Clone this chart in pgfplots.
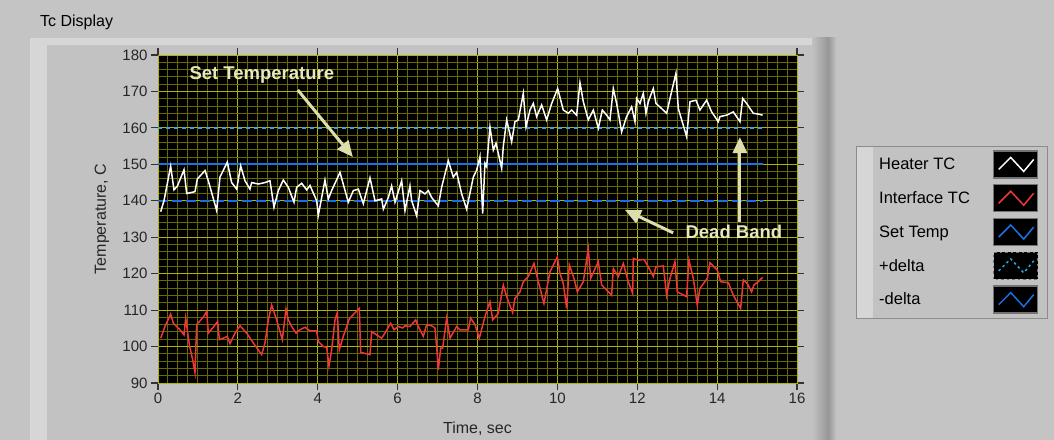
\documentclass[border=0pt]{standalone}
\usepackage{fontspec}
\setmainfont{Liberation Sans}
\usepackage{pgfplots}
\usepackage{pgfplotstable}
\pgfplotsset{compat=1.18}
\usetikzlibrary{arrows.meta}
\definecolor{bggray}{RGB}{196,196,196}
\definecolor{panelgray}{RGB}{194,194,194}
\definecolor{panellight}{RGB}{214,214,214}
\definecolor{panedark}{RGB}{150,150,150}
\definecolor{majgrid}{RGB}{180,180,0}
\definecolor{mingrid}{RGB}{105,105,0}
\definecolor{setblue}{RGB}{25,115,230}
\definecolor{plusblue}{RGB}{45,165,230}
\definecolor{minusblue}{RGB}{25,110,225}
\definecolor{tcred}{RGB}{240,55,55}
\definecolor{annot}{RGB}{222,222,172}
\definecolor{annottext}{RGB}{232,232,190}

\pgfplotstableread{
t v
0.067 137.0
0.15 140
0.317 149.5
0.40 143
0.484 144
0.651 148.5
0.718 142
0.843 142.3
0.926 142.5
0.985 146
1.177 148.3
1.26 145.5
1.469 137.3
1.552 146.5
1.736 150.6
1.844 145
1.97 143.2
2.07 149.6
2.178 145.5
2.303 143.2
2.345 145
2.512 144.6
2.679 145
2.804 145.5
2.904 138.2
3.013 142.8
3.138 145.7
3.263 143.7
3.405 139.6
3.472 143.7
3.597 144.8
3.722 143
3.806 144.2
3.973 140
4.014 136
4.181 145.7
4.265 140.5
4.348 142.8
4.557 147.8
4.765 139.6
4.891 142.8
5.016 143.2
5.141 139.2
5.308 146.3
5.433 140
5.600 140.5
5.642 137.7
5.767 140.9
5.850 144.1
5.934 139.6
6.101 145.5
6.184 137.3
6.309 144.1
6.351 140
6.476 135.9
6.560 142.8
6.685 141.9
6.768 142.8
6.852 140.9
7.019 138.6
7.102 143.7
7.269 151
7.394 146.5
7.478 147.8
7.603 141.9
7.728 137.7
7.895 146.5
7.979 148.4
8.062 152.1
8.129 136.5
8.187 150.3
8.229 149.4
8.312 160.3
8.396 153.9
8.463 155.8
8.605 148.9
8.646 154.9
8.730 162.2
8.855 156.2
8.938 161.7
9.022 162.2
9.147 169.5
9.214 160.3
9.314 164.9
9.397 166.7
9.481 163.1
9.606 166.3
9.731 162.2
9.857 166.7
10.007 170.8
10.148 164.9
10.274 164
10.357 164.9
10.482 163.5
10.566 172.4
10.649 167.2
10.774 162.2
10.9 164.9
11.025 159.9
11.125 164.9
11.234 163.5
11.317 162.2
11.4 170.8
11.484 166.7
11.609 158.9
11.734 163.1
11.859 165.8
11.943 161.7
11.985 168.1
12.068 166.7
12.152 169.5
12.218 164
12.277 167.2
12.402 170.8
12.469 166.7
12.611 165.3
12.736 164
12.861 170
12.969 175
13.028 165.3
13.153 160.7
13.236 157.6
13.320 167.2
13.470 167.6
13.570 164.9
13.737 167.6
13.862 164.4
14.029 161.7
14.071 163.1
14.238 163.5
14.405 164.4
14.572 161.7
14.639 168.1
14.739 166.7
14.906 164
15.031 163.8
15.139 163.5
}\heater

\pgfplotstableread{
t v
0.067 102.3
0.175 105.5
0.317 108.9
0.384 106.4
0.551 104.6
0.651 103.2
0.693 107.8
0.785 100.5
0.868 96.4
0.926 92.9
0.968 106
1.135 108.1
1.219 109.6
1.26 103.7
1.385 105.3
1.494 106.9
1.536 101.9
1.636 102.3
1.736 102.8
1.803 100.8
1.928 103.7
2.053 105.7
2.22 103.7
2.387 101
2.596 97.8
2.679 101
2.763 107.3
2.846 111.4
2.971 107.3
3.113 101.9
3.205 110.3
3.263 107.3
3.347 105.5
3.455 103.7
3.555 104.6
3.681 105.3
3.806 104.3
3.973 104.3
4.014 101.4
4.14 100
4.223 99.8
4.281 94.6
4.348 99.1
4.432 107.3
4.49 109.3
4.54 99.1
4.64 102.8
4.79 107.6
5.041 110.5
5.074 98.4
5.308 97.8
5.35 104.1
5.475 103.2
5.6 102.3
5.683 103.7
5.825 106.4
5.909 104.6
6.017 105.5
6.126 105.1
6.184 105.7
6.309 105.5
6.451 107.3
6.518 105.5
6.643 102.8
6.726 106
6.852 105.7
6.935 105.1
6.977 100
7.019 93.6
7.078 99.6
7.128 99.6
7.228 107.8
7.311 102.3
7.478 105.5
7.561 104.6
7.77 104.6
7.828 107.8
7.937 106
8.045 102.3
8.187 108.2
8.312 112.3
8.379 107.3
8.521 109.1
8.646 116.9
8.73 113.7
8.88 109.3
8.938 113.2
9.064 115
9.147 117.8
9.272 119.2
9.414 122.8
9.523 117.8
9.664 111.8
9.815 120.5
9.998 124.6
10.065 120.1
10.148 117.3
10.232 110.5
10.299 122.4
10.416 118.7
10.499 115
10.649 117.8
10.774 126.9
10.833 118.7
11.025 123.3
11.108 116.9
11.234 115.5
11.359 114.1
11.4 121.4
11.525 119.2
11.651 122.8
11.776 117.8
11.885 114.6
11.901 124.2
12.026 123.7
12.168 123.9
12.277 121.9
12.402 119.2
12.469 121.9
12.652 122.1
12.736 114.1
12.819 118.7
12.944 123.3
13.003 115
13.236 113.7
13.295 123.7
13.403 118.7
13.503 111.4
13.57 116
13.754 118.7
13.821 123
14.004 121
14.088 117.8
14.28 117.5
14.405 114.1
14.589 110.5
14.655 118.3
14.755 117.3
14.864 115
14.922 116.9
15.031 117.8
15.139 119
}\interface

\begin{document}
\begin{tikzpicture}
\useasboundingbox (0,0) rectangle (1054bp,440bp);
\fill[bggray] (0,0) rectangle (1054bp,440bp);
% graph panel
\fill[panelgray] (30bp,0) rectangle (836bp,402bp);
\fill[panellight] (30bp,395bp) rectangle (836bp,402bp);
\fill[panellight] (30bp,0) rectangle (47bp,402bp);
\shade[left color=panelgray, right color=panedark] (812bp,0) rectangle (828bp,402bp);
\shade[left color=panedark, right color=panelgray] (828bp,0) rectangle (836bp,402bp);
\node[anchor=west, inner sep=0pt, font=\fontsize{16bp}{19bp}\selectfont] at (40bp,418bp) {Tc Display};
% legend panel
\fill[black!45] (856bp,121bp) rectangle (1048bp,294bp);
\fill[panelgray] (857bp,122bp) rectangle (1047bp,293bp);
\fill[panellight] (857bp,122bp) rectangle (873bp,293bp);

\begin{axis}[
  at={(158bp,57bp)}, anchor=south west,
  scale only axis, width=639bp, height=328bp,
  xmin=0, xmax=16, ymin=90, ymax=180,
  xtick={0,2,...,16}, ytick={90,100,...,180},
  minor x tick num=7, minor y tick num=4,
  grid=both,
  major grid style={draw=majgrid, line width=1bp},
  minor grid style={draw=mingrid, line width=1bp},
  axis background/.style={fill=black},
  axis line style={draw=majgrid, line width=1bp},
  tick align=outside, major tick length=7bp, minor tick length=0pt,
  tick style={black!80, line width=1.2bp},
  /pgf/number format/assume math mode=true,
  tick label style={font=\fontsize{15bp}{18bp}\selectfont, text=black!85},
  xlabel={Time, sec}, ylabel={Temperature, C},
  every axis x label/.style={at={(axis description cs:0.5,-0.140)}, anchor=center,
    font=\fontsize{16bp}{19bp}\selectfont, text=black!85},
  every axis y label/.style={at={(axis description cs:-0.0876,0.5)}, anchor=center, rotate=90,
    font=\fontsize{16bp}{19bp}\selectfont, text=black!85},
  legend plot pos=right,
  legend cell align=left,
  legend style={font=\fontsize{16.5bp}{19bp}\selectfont, draw=none, fill=none,
    inner sep=0pt, at={(1.1283,0.7104)}, anchor=north west,
    row sep=5.3bp, column sep=23bp, nodes={inner sep=0pt}},
  legend image code/.code={
    \fill[black, draw=black!55] (0bp,-13.5bp) rectangle (44bp,13.5bp);
    \draw[#1] (5bp,-5bp) -- (17bp,7bp) -- (30bp,-7bp) -- (40bp,5bp);
  },
]
\addplot[setblue, line width=2bp, forget plot] coordinates {(0,150) (15.15,150)};
\addplot[plusblue, line width=2bp, dash pattern=on 4bp off 4bp, forget plot] coordinates {(0,160) (15.15,160)};
\addplot[minusblue, line width=2bp, dash pattern=on 10bp off 4bp, forget plot] coordinates {(0,140) (15.15,140)};
\addplot[white, line width=1.5bp] table[x=t, y=v] {\heater};
\addlegendentry{Heater TC}
\addplot[tcred, line width=1.5bp] table[x=t, y=v] {\interface};
\addlegendentry{Interface TC}
\addlegendimage{setblue, line width=1.5bp}
\addlegendentry{Set Temp}
\addlegendimage{plusblue, line width=1.5bp, dash pattern=on 2.5bp off 3bp}
\addlegendentry{+delta}
\addlegendimage{minusblue, line width=1.5bp}
\addlegendentry{-delta}

\node[font=\bfseries\fontsize{18.5bp}{21bp}\selectfont, text=annottext, inner sep=0pt] at (axis cs:2.6,174.5) {Set Temperature};
\draw[annot, line width=3bp, -{Triangle[length=16bp,width=14bp]}] (axis cs:3.5,170.4) -- (axis cs:4.88,152);
\node[font=\bfseries\fontsize{18.5bp}{21bp}\selectfont, text=annottext, inner sep=0pt] at (axis cs:14.42,131.4) {Dead Band};
\draw[annot, line width=3bp, -{Triangle[length=16bp,width=14bp]}] (axis cs:12.9,131.2) -- (axis cs:11.69,137.5);
\draw[annot, line width=3bp, -{Triangle[length=16bp,width=14bp]}] (axis cs:14.57,134.2) -- (axis cs:14.57,157.5);
\end{axis}
\end{tikzpicture}
\end{document}
